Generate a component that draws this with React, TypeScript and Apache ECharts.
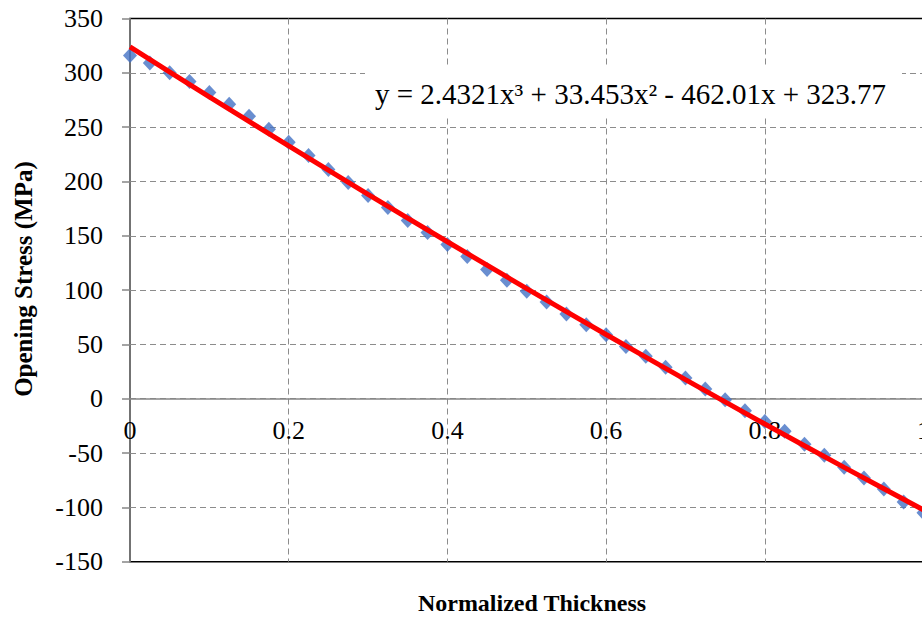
import React, { useEffect, useRef } from "react";
import * as echarts from "echarts";

const thickness = [
  0, 0.025, 0.05, 0.075, 0.1, 0.125, 0.15, 0.175, 0.2, 0.225, 0.25, 0.275, 0.3, 0.325,
  0.35, 0.375, 0.4, 0.425, 0.45, 0.475, 0.5, 0.525, 0.55, 0.575, 0.6, 0.625, 0.65,
  0.675, 0.7, 0.725, 0.75, 0.775, 0.8, 0.825, 0.85, 0.875, 0.9, 0.925, 0.95, 0.975, 1,
];
const stress = [
  316, 309, 300, 292, 282, 271, 260, 248, 236, 224, 211, 199, 187, 176, 164, 153, 142,
  131, 119, 109, 99, 89, 78, 68, 59, 48, 39, 29, 19, 9, -1, -11, -21, -30, -42, -52,
  -63, -73, -83, -95, -105,
];
const trendX = [0, 0.1, 0.2, 0.3, 0.4, 0.5, 0.6, 0.7, 0.8, 0.9, 1];
const trendY = [323.8, 277.9, 232.7, 188.2, 144.5, 101.4, 59.1, 17.6, -23.2, -63.2, -102.4];
const equationText = "y = 2.4321x³ + 33.453x² - 462.01x + 323.77";
const xTitle = "Normalized Thickness";
const yTitle = "Opening Stress (MPa)";

const FONT = "Liberation Serif";

export default function App() {
  const ref = useRef<HTMLDivElement>(null);
  useEffect(() => {
    document.body.style.margin = "0";
    const chart = echarts.init(ref.current!, null, { renderer: "svg" });
    const dashed = { color: "#8c8c8c", width: 1, type: [6, 4] as any };
    const gridTop = 18.5;
    const gridBottomY = 561.7;
    const yMin = -150;
    const yMax = 350;
    // x axis sits on the y = 0 line: offset it up by the share of the range below zero
    const axisOffset = -((0 - yMin) / (yMax - yMin)) * (gridBottomY - gridTop);
    chart.setOption({
      animation: false,
      backgroundColor: "#fff",
      textStyle: { fontFamily: FONT },
      grid: {
        left: 130,
        top: gridTop,
        right: -1.5,
        bottom: 620 - gridBottomY,
        outerBoundsMode: "none",
        containLabel: false,
        show: true,
        borderColor: "#000",
        borderWidth: 1.5,
        backgroundColor: "transparent",
      },
      xAxis: {
        type: "value",
        position: "bottom",
        offset: axisOffset,
        min: 0,
        max: 1,
        interval: 0.2,
        axisLine: { show: true, onZero: false, lineStyle: { color: "#868686", width: 1.5 } },
        axisTick: { show: false },
        axisLabel: { color: "#000", fontFamily: FONT, fontSize: 26, margin: 19, hideOverlap: false },
        splitLine: { show: true, showMinLine: false, showMaxLine: false, lineStyle: dashed },
      },
      yAxis: {
        type: "value",
        min: yMin,
        max: yMax,
        interval: 50,
        axisLine: { show: true, onZero: false, lineStyle: { color: "#868686", width: 1.5 } },
        axisTick: { show: true, inside: false, length: 8, lineStyle: { color: "#868686", width: 1.5 } },
        axisLabel: { color: "#000", fontFamily: FONT, fontSize: 26, margin: 27 },
        splitLine: { show: true, showMinLine: false, showMaxLine: false, lineStyle: dashed },
      },
      series: [
        {
          type: "scatter",
          data: thickness.map((x, i) => [x, stress[i]]),
          symbol: "diamond",
          symbolSize: [14, 15],
          itemStyle: { color: "#4472C4" },
          z: 2,
        },
        {
          type: "line",
          data: trendX.map((x, i) => [x, trendY[i]]),
          showSymbol: false,
          symbol: "none",
          smooth: 0.2,
          lineStyle: { color: "#FF0000", width: 5 },
          z: 3,
        },
      ],
      graphic: [
        {
          type: "rect",
          z: 100,
          shape: { x: 365, y: 68, width: 537, height: 49 },
          style: { fill: "#fff" },
        },
        {
          type: "text",
          z: 101,
          x: 375,
          y: 94,
          style: {
            text: equationText,
            fontFamily: FONT,
            fontSize: 29,
            fill: "#000",
            verticalAlign: "middle",
            align: "left",
          },
        },
        {
          type: "text",
          z: 101,
          x: 532,
          y: 603,
          style: {
            text: xTitle,
            fontFamily: FONT,
            fontSize: 24,
            fontWeight: "bold",
            fill: "#000",
            align: "center",
            verticalAlign: "middle",
          },
        },
        {
          type: "text",
          z: 101,
          x: 23,
          y: 279,
          rotation: Math.PI / 2,
          style: {
            text: yTitle,
            fontFamily: FONT,
            fontSize: 25,
            fontWeight: "bold",
            fill: "#000",
            align: "center",
            verticalAlign: "middle",
          },
        },
      ],
    });
    return () => chart.dispose();
  }, []);
  return <div ref={ref} style={{ width: 922, height: 620 }} />;
}
